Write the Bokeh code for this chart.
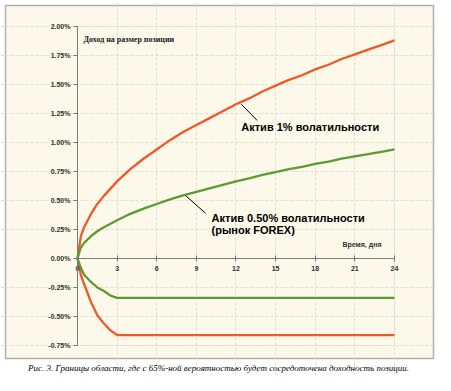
from bokeh.plotting import figure
from bokeh.models import (Range1d, LinearAxis, Grid, FixedTicker,
                          BoxAnnotation, CustomJSTickFormatter)
from bokeh.core.properties import value
from bokeh.embed import file_html
from bokeh.resources import INLINE

# --- data, values in % ---
t_up = [0, 0.25, 0.5, 1, 1.5, 2, 3, 4, 5, 6, 7, 8, 9, 10, 11, 12, 13, 14, 15, 16,
        17, 18, 19, 20, 21, 22, 23, 24]
up_1pct = [0.0, 0.19, 0.27, 0.38, 0.47, 0.54, 0.665, 0.77, 0.86, 0.94, 1.02, 1.09,
           1.15, 1.21, 1.27, 1.33, 1.38, 1.44, 1.49, 1.54, 1.58, 1.63, 1.67, 1.72,
           1.76, 1.80, 1.84, 1.88]
up_05pct = [0.0, 0.095, 0.135, 0.19, 0.235, 0.27, 0.33, 0.385, 0.43, 0.47, 0.51,
            0.545, 0.575, 0.605, 0.635, 0.665, 0.69, 0.72, 0.745, 0.77, 0.79, 0.815,
            0.835, 0.86, 0.88, 0.90, 0.92, 0.94]
t_low = [0, 0.25, 0.5, 1, 1.5, 2, 2.5, 3, 24]
low_1pct = [0.0, -0.14, -0.22, -0.37, -0.49, -0.56, -0.62, -0.66, -0.66]
low_05pct = [0.0, -0.08, -0.14, -0.20, -0.25, -0.28, -0.32, -0.34, -0.34]

x_ticks = [0, 3, 6, 9, 12, 15, 18, 21, 24]
y_ticks = [-0.75, -0.5, -0.25, 0.0, 0.25, 0.5, 0.75, 1.0, 1.25, 1.5, 1.75, 2.0]

y_title = "Доход на размер позиции"
x_title = "Время, дня"
label_1 = "Актив 1% волатильности"
label_2 = ["Актив 0.50% волатильности", "(рынок FOREX)"]
caption = "Рис. 3. Границы области, где с 65%-ной вероятностью будет сосредоточена доходность позиции."

ORANGE = "#F0582A"
GREEN = "#5A9B32"
CREAM = "#FCF8EA"

p = figure(width=435, height=375, output_backend="svg", toolbar_location=None,
           x_range=Range1d(-5.830, 27.105), y_range=Range1d(-1.0086, 2.2241),
           x_axis_type=None, y_axis_type=None,
           min_border_left=0, min_border_right=0, min_border_top=0, min_border_bottom=0)
p.background_fill_color = "white"
p.border_fill_color = "white"
p.outline_line_color = None

# outer framed panel (cream with black border)
p.add_layout(BoxAnnotation(left=-5.451, right=26.953, bottom=-0.862, top=2.181,
                           fill_color=CREAM, fill_alpha=1, line_color="black",
                           line_width=1.5, level="underlay"))
# plot area border
p.add_layout(BoxAnnotation(left=0, right=24, bottom=-0.75, top=2.0,
                           fill_alpha=0, line_color="#C8C4BA", line_width=1,
                           level="underlay"))

font_small = "Liberation Sans"

xaxis = LinearAxis(ticker=FixedTicker(ticks=x_ticks), fixed_location=0, bounds=(0, 24))
xaxis.axis_line_color = "#7A7A7A"
xaxis.major_tick_line_color = "#7A7A7A"
xaxis.major_tick_in = 3
xaxis.major_tick_out = 3
xaxis.minor_tick_line_color = None
xaxis.major_label_text_font = font_small
xaxis.major_label_text_font_size = "7px"
xaxis.major_label_text_font_style = "bold"
xaxis.major_label_text_color = "#333333"
xaxis.major_label_standoff = 4
p.add_layout(xaxis, "below")

yaxis = LinearAxis(ticker=FixedTicker(ticks=y_ticks), fixed_location=0, bounds=(-0.75, 2.0))
yaxis.axis_line_color = "#7A7A7A"
yaxis.major_tick_line_color = "#7A7A7A"
yaxis.major_tick_in = 0
yaxis.major_tick_out = 4
yaxis.minor_tick_line_color = None
yaxis.formatter = CustomJSTickFormatter(code="return (tick).toFixed(2) + '%';")
yaxis.major_label_text_font = font_small
yaxis.major_label_text_font_size = "7px"
yaxis.major_label_text_font_style = "bold"
yaxis.major_label_text_color = "#333333"
yaxis.major_label_standoff = 3
p.add_layout(yaxis, "left")

xgrid = Grid(dimension=0, ticker=FixedTicker(ticks=x_ticks[1:]), bounds=(-0.75, 2.0))
ygrid = Grid(dimension=1, ticker=FixedTicker(ticks=[v for v in y_ticks if v != 0.0]),
             bounds=(0, 24))
for g in (xgrid, ygrid):
    g.grid_line_color = "#E2DDD0"
    g.grid_line_dash = "3 2"
    g.grid_line_width = 1
    p.add_layout(g)

p.line(t_low, low_1pct, line_color=ORANGE, line_width=2.3)
p.line(t_low, low_05pct, line_color=GREEN, line_width=2.3)
p.line(t_up, up_1pct, line_color=ORANGE, line_width=2.3)
p.line(t_up, up_05pct, line_color=GREEN, line_width=2.3)

# leader lines
p.segment(x0=[12.4, 8.2], y0=[1.33, 0.54], x1=[13.6, 9.7], y1=[1.19, 0.39],
          line_color="black", line_width=1)

p.text(x=[0.45], y=[1.89], text=[y_title],
       text_font=value("Liberation Serif"), text_font_size="8px",
       text_font_style="bold", text_color="#222222", text_baseline="middle")
p.text(x=[12.4], y=[1.13], text=[label_1],
       text_font=value("Liberation Sans"), text_font_size="11px",
       text_font_style="bold", text_color="black", text_baseline="middle")
p.text(x=[10.15, 10.15], y=[0.345, 0.245], text=label_2,
       text_font=value("Liberation Sans"), text_font_size="11px",
       text_font_style="bold", text_color="black", text_baseline="middle")
p.text(x=[20.06], y=[0.118], text=[x_title],
       text_font=value("Liberation Sans"), text_font_size="7px",
       text_font_style="bold", text_color="#333333", text_baseline="middle")

p.text(x=[10.68], y=[-0.94], text=[caption],
       text_font=value("Liberation Serif"), text_font_size="9px",
       text_font_style="italic", text_color="black", text_baseline="middle",
       text_align="center")

open("out.html", "w").write(file_html(p, INLINE))
